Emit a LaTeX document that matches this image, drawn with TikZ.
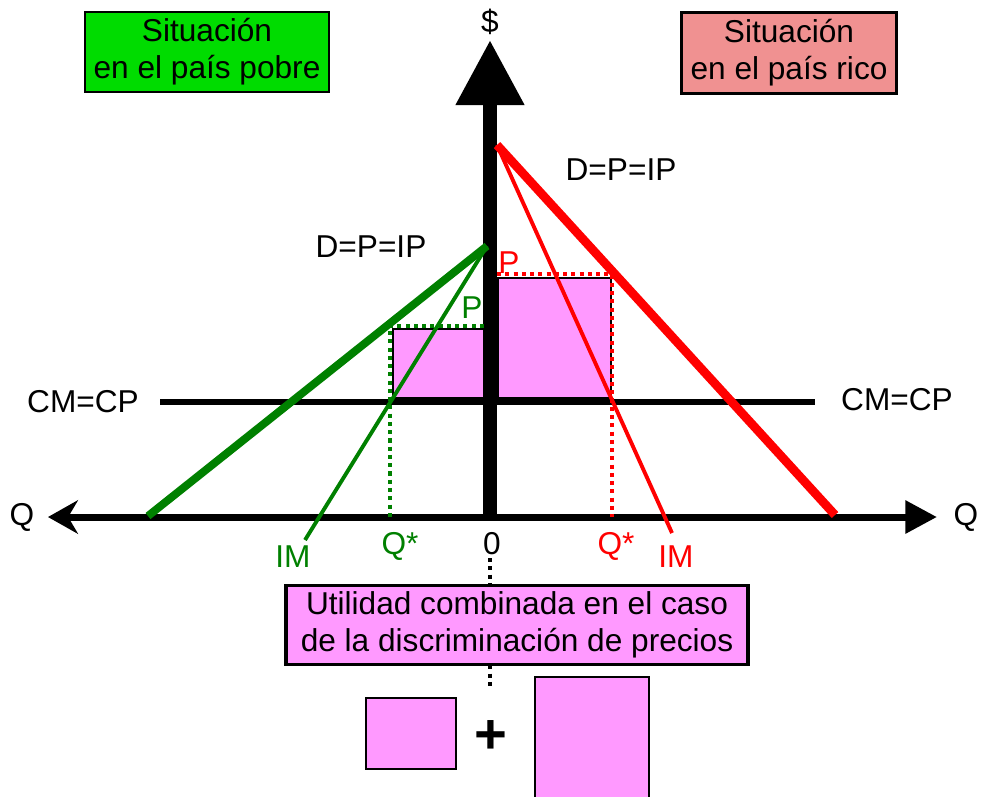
\documentclass[tikz,border=0pt]{standalone}
\usepackage{fontspec}
\setmainfont{Liberation Sans}
\usetikzlibrary{arrows.meta}
\definecolor{boxgreen}{RGB}{0,220,0}
\definecolor{boxred}{RGB}{240,145,145}
\definecolor{profit}{RGB}{255,153,255}
\definecolor{poorgreen}{RGB}{0,128,0}

\begin{document}
\begin{tikzpicture}[x=0.02cm,y=-0.02cm,
  lbl/.style={font=\fontsize{18}{20}\selectfont, inner sep=0pt},
  titlebox/.style={draw, line width=1.2pt, lbl, font=\fontsize{18}{21}\selectfont, align=center, minimum height=1.6cm},
  area/.style={draw, line width=1.1pt, fill=profit},
  dots/.style={line width=2.3pt, dash pattern=on 2.3pt off 2.4pt}]
\useasboundingbox (0,0) rectangle (982,796);

% key points
\coordinate (O) at (490,517);
\coordinate (gtop) at (487,246);
\coordinate (gend) at (148,516);
\coordinate (gim) at (305,540);
\coordinate (rtop) at (497,145);
\coordinate (rend) at (835,515);
\coordinate (rim) at (672,533);

% profit areas
\filldraw[area] (393,329) rectangle (484,398);
\filldraw[area] (498,278) rectangle (611,398);

% cost line
\draw[line width=3.4pt] (160,402) -- (815,402);

% axes
\draw[line width=4pt, {Stealth[length=17pt,width=19pt]}-{Triangle[length=18pt,width=18pt]}] (48,517) -- (937,517);
\draw[line width=8pt, -{Triangle[length=37pt,width=37pt]}] (490,520) -- (490,40);

% dotted guides
\draw[dots, poorgreen] (484,326) -- (390,326) -- (390,517);
\draw[dots, red] (497,274) -- (612,274) -- (612,517);
\draw[dots] (490,558) -- (490,690);

% demand and marginal income
\draw[line width=4.5pt, poorgreen] (gend) -- (gtop);
\draw[line width=2.2pt, poorgreen] (gtop) -- (gim);
\draw[line width=5pt, red] (rtop) -- (rend);
\draw[line width=2.2pt, red] (rtop) -- (rim);

% labels
\node[titlebox, fill=boxgreen, minimum width=4.88cm] (poor) at (207,52) {Situación\\en el país pobre};
\node[titlebox, fill=boxred, minimum width=4.3cm, minimum height=1.62cm] (rich) at (789,53) {Situación\\en el país rico};
\node[lbl] (dollar) at (490,22) {\$};
\node[lbl] (dpoor) at (371,247) {D=P=IP};
\node[lbl] (drich) at (621,170) {D=P=IP};
\node[lbl, text=poorgreen] (ppoor) at (472,308) {P};
\node[lbl, text=red] (prich) at (509,263) {P};
\node[lbl] (cmleft) at (83,402) {CM=CP};
\node[lbl] (cmright) at (897,400) {CM=CP};
\node[lbl] (qleft) at (22,517) {Q};
\node[lbl] (qright) at (966,517) {Q};
\node[lbl, text=poorgreen] (impoor) at (293,557) {IM};
\node[lbl, text=poorgreen] (qspoor) at (400,546) {Q*};
\node[lbl] (zero) at (492,544) {0};
\node[lbl, text=red] (qsrich) at (616,546) {Q*};
\node[lbl, text=red] (imrich) at (676,557) {IM};

% combined profit
\node[titlebox, line width=1.8pt, fill=profit, minimum width=9.24cm, minimum height=1.58cm] (sum) at (517,625) {Utilidad combinada en el caso\\de la discriminación de precios};
\filldraw[area] (366,698) rectangle (456,769);
\node[font=\fontsize{32}{32}\selectfont\bfseries, inner sep=0pt] (plus) at (491,737) {+};
\filldraw[area] (535,677) rectangle (649,805);
\end{tikzpicture}
\end{document}
